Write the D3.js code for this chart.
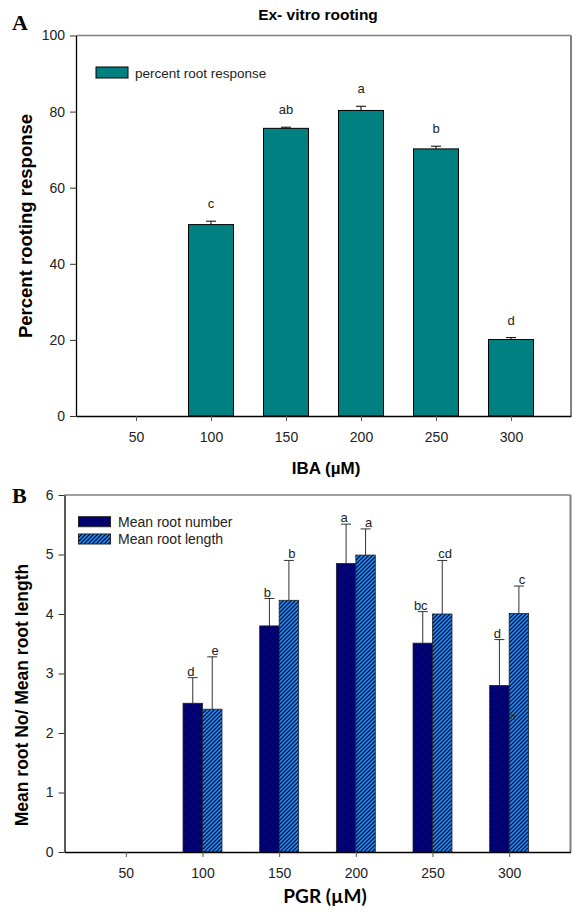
<!DOCTYPE html>
<html>
<head>
<meta charset="utf-8">
<script src="https://cdn.jsdelivr.net/npm/d3@7"></script>
<style>
  body { margin: 0; background: #fff; }
  svg text { font-family: "Liberation Sans", Arial, sans-serif; }
</style>
</head>
<body>
<div id="chart"></div>
<script>
// doses on x axis
const doses = [50, 100, 150, 200, 250, 300];

// panel A - ex vitro rooting
const rootingPct = [null, 50.3, 75.6, 80.3, 70.2, 20.1];
const rootingErr = [null, 0.9, 0.3, 1.1, 0.7, 0.5];
const rootingLetters = ['', 'c', 'ab', 'a', 'b', 'd'];
const yTicksA = [0, 20, 40, 60, 80, 100];

// panel B - root number / length
const rootNumber = [null, 2.5, 3.8, 4.85, 3.51, 2.8];
const rootNumberErr = [null, 0.43, 0.46, 0.66, 0.53, 0.77];
const numberLetters = ['', 'd', 'b', 'a', 'bc', 'd'];
const rootLength = [null, 2.4, 4.23, 4.99, 4.0, 4.01];
const rootLengthErr = [null, 0.88, 0.67, 0.44, 0.9, 0.46];
const lengthLetters = ['', 'e', 'b', 'a', 'cd', 'c'];
const yTicksB = [0, 1, 2, 3, 4, 5, 6];

const W = 574, H = 912;
const svg = d3.select('#chart').append('svg').attr('width', W).attr('height', H);

// hatch patterns for panel B
const defs = svg.append('defs');
function hatch(id, fill) {
  const p = defs.append('pattern')
    .attr('id', id)
    .attr('patternUnits', 'userSpaceOnUse')
    .attr('width', 4).attr('height', 4);
  p.append('rect').attr('width', 4).attr('height', 4).attr('fill', fill);
  p.append('path')
    .attr('d', 'M-1,1 l2,-2 M0,4 l4,-4 M3,5 l2,-2')
    .attr('stroke', '#000').attr('stroke-width', 1.2);
}
hatch('hatchDark', '#0000a8');
hatch('hatchLight', '#1e8cff');

function frame(g, x, y) {
  const [x0, x1] = x.range();
  const [y0, y1] = y.range();
  g.append('line').attr('x1', x0).attr('x2', x1).attr('y1', y1).attr('y2', y1)
    .attr('stroke', '#808080').attr('stroke-width', 1.5);
  g.append('line').attr('x1', x1).attr('x2', x1).attr('y1', y1).attr('y2', y0)
    .attr('stroke', '#808080').attr('stroke-width', 2);
}

function axes(g, x, y, yTicks) {
  const xa = g.append('g')
    .attr('transform', `translate(0,${y.range()[0]})`)
    .call(d3.axisBottom(x).tickValues(doses).tickSize(5).tickPadding(11).tickSizeOuter(0));
  xa.select('.domain').attr('stroke', '#000').attr('stroke-width', 1.3);
  xa.selectAll('.tick line').attr('stroke', '#555');
  xa.selectAll('text').attr('font-size', 14).attr('fill', '#222')
    .style('font-family', '"Liberation Sans", Arial, sans-serif');

  const ya = g.append('g')
    .attr('transform', `translate(${x.range()[0]},0)`)
    .call(d3.axisLeft(y).tickValues(yTicks).tickFormat(d3.format('d'))
      .tickSize(6).tickPadding(5).tickSizeOuter(0));
  ya.select('.domain').attr('stroke', '#000').attr('stroke-width', 1.3);
  ya.selectAll('.tick line').attr('stroke', '#333');
  ya.selectAll('text').attr('font-size', 14).attr('fill', '#222')
    .style('font-family', '"Liberation Sans", Arial, sans-serif');
}

// ---------- Panel A ----------
const xA = d3.scaleLinear().domain([10, 340]).range([76, 571]);
const yA = d3.scaleLinear().domain([0, 100]).range([416, 35.5]);
const gA = svg.append('g');
frame(gA, xA, yA);

const dataA = doses.map((d, i) => ({ dose: d, v: rootingPct[i], e: rootingErr[i], lab: rootingLetters[i] }))
  .filter(d => d.v != null);
const bwA = xA(30) - xA(0);

gA.selectAll('rect.bar').data(dataA).join('rect')
  .attr('class', 'bar')
  .attr('x', d => xA(d.dose) - bwA / 2)
  .attr('y', d => yA(d.v))
  .attr('width', bwA)
  .attr('height', d => yA(0) - yA(d.v))
  .attr('fill', '#008080')
  .attr('stroke', '#000').attr('stroke-width', 1);

gA.selectAll('line.err').data(dataA).join('line')
  .attr('class', 'err')
  .attr('x1', d => xA(d.dose)).attr('x2', d => xA(d.dose))
  .attr('y1', d => yA(d.v)).attr('y2', d => yA(d.v + d.e))
  .attr('stroke', '#000');
gA.selectAll('line.cap').data(dataA).join('line')
  .attr('class', 'cap')
  .attr('x1', d => xA(d.dose) - 5).attr('x2', d => xA(d.dose) + 5)
  .attr('y1', d => yA(d.v + d.e)).attr('y2', d => yA(d.v + d.e))
  .attr('stroke', '#000');
gA.selectAll('text.lab').data(dataA).join('text')
  .attr('class', 'lab')
  .attr('x', d => xA(d.dose))
  .attr('y', d => yA(d.v + d.e) - 13)
  .attr('text-anchor', 'middle')
  .attr('font-size', 13).attr('fill', '#222')
  .text(d => d.lab);

axes(gA, xA, yA, yTicksA);

// legend A
gA.append('rect').attr('x', 96).attr('y', 67).attr('width', 32).attr('height', 11)
  .attr('fill', '#008080').attr('stroke', '#000');
gA.append('text').attr('x', 135).attr('y', 77.5).attr('font-size', 13.5).attr('fill', '#222')
  .text('percent root response');

gA.append('text').attr('x', 318).attr('y', 20).attr('text-anchor', 'middle')
  .attr('font-size', 15.5).attr('font-weight', 'bold').text('Ex- vitro rooting');
gA.append('text').attr('x', 12).attr('y', 30)
  .style('font-family', '"Liberation Serif", "Times New Roman", serif')
  .attr('font-size', 22).attr('font-weight', 'bold').text('A');
gA.append('text').attr('transform', 'translate(32,226) rotate(-90)')
  .attr('text-anchor', 'middle').attr('font-size', 18.5).attr('font-weight', 'bold')
  .text('Percent rooting response');
gA.append('text').attr('x', 326).attr('y', 474).attr('text-anchor', 'middle')
  .attr('font-size', 17).attr('font-weight', 'bold').text('IBA (\u00b5M)');

// ---------- Panel B ----------
const xB = d3.scaleLinear().domain([10, 340]).range([64.5, 570.5]);
const yB = d3.scaleLinear().domain([0, 6]).range([852, 495]);
const gB = svg.append('g');
frame(gB, xB, yB);

const bwB = xB(12.7) - xB(0);
const series = [
  { vals: rootNumber, errs: rootNumberErr, labs: numberLetters, fill: 'url(#hatchDark)', side: -1, dx: -2 },
  { vals: rootLength, errs: rootLengthErr, labs: lengthLetters, fill: 'url(#hatchLight)', side: 0, dx: 3 }
];

series.forEach(s => {
  const data = doses.map((d, i) => ({ dose: d, v: s.vals[i], e: s.errs[i], lab: s.labs[i] }))
    .filter(d => d.v != null);
  const g = gB.append('g');
  const cx = d => xB(d.dose) + s.side * bwB + bwB / 2;
  g.selectAll('line.err').data(data).join('line')
    .attr('x1', cx).attr('x2', cx)
    .attr('y1', d => yB(d.v)).attr('y2', d => yB(d.v + d.e))
    .attr('stroke', '#333');
  g.selectAll('line.cap').data(data).join('line')
    .attr('x1', d => cx(d) - 5).attr('x2', d => cx(d) + 5)
    .attr('y1', d => yB(d.v + d.e)).attr('y2', d => yB(d.v + d.e))
    .attr('stroke', '#333');
  g.selectAll('rect').data(data).join('rect')
    .attr('x', d => xB(d.dose) + s.side * bwB)
    .attr('y', d => yB(d.v))
    .attr('width', bwB)
    .attr('height', d => yB(0) - yB(d.v))
    .attr('fill', s.fill)
    .attr('stroke', '#222').attr('stroke-width', 0.8);
  g.selectAll('text').data(data).join('text')
    .attr('x', d => cx(d) + s.dx)
    .attr('y', d => yB(d.v + d.e) - 2)
    .attr('text-anchor', 'middle')
    .attr('font-size', 13).attr('fill', '#222')
    .text(d => d.lab);
});

// stray letter inside the 300 bar
gB.append('text').attr('x', xB(300) + 1).attr('y', yB(2.22))
  .attr('font-size', 10).attr('fill', '#333').text('e');

axes(gB, xB, yB, yTicksB);

// legend B
[['url(#hatchDark)', 'Mean root number', 516.7], ['url(#hatchLight)', 'Mean root length', 534]].forEach(([f, t, y]) => {
  gB.append('rect').attr('x', 78.5).attr('y', y).attr('width', 32).attr('height', 10)
    .attr('fill', f).attr('stroke', '#222');
  gB.append('text').attr('x', 118).attr('y', y + 10).attr('font-size', 14).attr('fill', '#222').text(t);
});

gB.append('text').attr('x', 12).attr('y', 503)
  .style('font-family', '"Liberation Serif", "Times New Roman", serif')
  .attr('font-size', 22).attr('font-weight', 'bold').text('B');
gB.append('text').attr('transform', 'translate(28,695) rotate(-90)')
  .attr('text-anchor', 'middle').attr('font-size', 17.5).attr('font-weight', 'bold')
  .text('Mean root No/ Mean root length');
gB.append('text').attr('x', 325).attr('y', 903).attr('text-anchor', 'middle')
  .style('font-family', 'Lato, "Open Sans", sans-serif')
  .attr('font-size', 19).attr('font-weight', 'bold').text('PGR (\u00b5M)');
</script>
</body>
</html>
